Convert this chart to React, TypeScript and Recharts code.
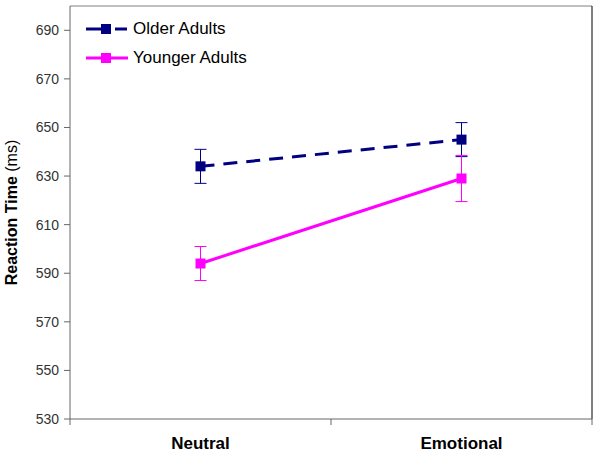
import { LineChart, Line, XAxis, YAxis, ErrorBar, ReferenceLine } from "recharts"

const categories = ["Neutral", "Emotional"]
const olderRT = [634, 645]
const youngerRT = [594, 629]
const olderErr = [7, 7]
const youngerErr = [7, 9.5]
const yTicks = [530, 550, 570, 590, 610, 630, 650, 670, 690]

const NAVY = "#000080"
const MAGENTA = "#FF00FF"

const data = categories.map((name, i) => ({
  pos: i + 0.5,
  name,
  older: olderRT[i],
  younger: youngerRT[i],
  olderErr: olderErr[i],
  youngerErr: youngerErr[i],
}))

const Square = (color: string) => (props: any) => {
  const { cx, cy } = props
  if (cx == null || cy == null) return null
  return <rect x={cx - 5} y={cy - 5} width={10} height={10} fill={color} />
}

function XTick(props: any) {
  const { x, y, payload } = props
  const v = payload.value
  if (Number.isInteger(v)) {
    return <line x1={x} x2={x} y1={y} y2={y + 6} stroke="#666" />
  }
  return (
    <text x={x} y={y + 30} textAnchor="middle" fontSize={17} fontWeight="bold" fill="#000"
      fontFamily="'Liberation Sans', Arial, sans-serif">
      {categories[Math.floor(v)]}
    </text>
  )
}

function YLabel(props: any) {
  const vb = props.viewBox
  const cx = vb.x + 17
  const cy = vb.y + vb.height / 2
  return (
    <text x={cx} y={cy} transform={`rotate(-90 ${cx} ${cy})`} textAnchor="middle" fontSize={16}
      fill="#000" fontFamily="'Liberation Sans', Arial, sans-serif">
      <tspan fontWeight="bold">Reaction Time</tspan>
      <tspan> (ms)</tspan>
    </text>
  )
}

function LegendBox() {
  const items = [
    { label: "Older Adults", color: NAVY, dashed: true },
    { label: "Younger Adults", color: MAGENTA, dashed: false },
  ]
  return (
    <div style={{ position: "absolute", left: 86, top: 14, fontFamily: "'Liberation Sans', Arial, sans-serif", fontSize: 17 }}>
      {items.map((it) => (
        <div key={it.label} style={{ display: "flex", alignItems: "center", height: 29 }}>
          <svg width={44} height={14}>
            {it.dashed ? (
              <>
                <line x1={0} x2={20} y1={7} y2={7} stroke={it.color} strokeWidth={3} />
                <line x1={29} x2={41} y1={7} y2={7} stroke={it.color} strokeWidth={3} />
              </>
            ) : (
              <line x1={0} x2={42} y1={7} y2={7} stroke={it.color} strokeWidth={3} />
            )}
            <rect x={15} y={2} width={10} height={10} fill={it.color} />
          </svg>
          <span style={{ marginLeft: 3, color: "#000" }}>{it.label}</span>
        </div>
      ))}
    </div>
  )
}

export default function App() {
  return (
    <div style={{ position: "absolute", left: 0, top: 0, width: 600, height: 456, background: "#fff" }}>
      <LineChart width={600} height={456} data={data} margin={{ top: 6, right: 8, bottom: 0, left: 0 }}>
        <XAxis
          dataKey="pos"
          type="number"
          domain={[0, 2]}
          ticks={[0, 0.5, 1, 1.5, 2]}
          tickLine={false}
          tickSize={0}
          tickMargin={0}
          tick={<XTick />}
          height={37}
          stroke="#666"
        />
        <YAxis
          type="number"
          domain={[530, 700]}
          ticks={yTicks}
          width={70}
          tickSize={6}
          tickMargin={5}
          stroke="#666"
          tick={{ fill: "#333", fontSize: 14, fontFamily: "'Liberation Sans', Arial, sans-serif" }}
          label={<YLabel />}
        />
        <ReferenceLine y={700} stroke="#808080" />
        <ReferenceLine x={2} stroke="#000" />
        <Line
          type="linear"
          dataKey="older"
          stroke={NAVY}
          strokeWidth={3}
          strokeDasharray="14 9"
          dot={Square(NAVY)}
          activeDot={false}
          isAnimationActive={false}
        >
          <ErrorBar dataKey="olderErr" width={6} stroke={NAVY} strokeWidth={1} direction="y" />
        </Line>
        <Line
          type="linear"
          dataKey="younger"
          stroke={MAGENTA}
          strokeWidth={3}
          dot={Square(MAGENTA)}
          activeDot={false}
          isAnimationActive={false}
        >
          <ErrorBar dataKey="youngerErr" width={6} stroke={MAGENTA} strokeWidth={1} direction="y" />
        </Line>
      </LineChart>
      <LegendBox />
    </div>
  )
}
